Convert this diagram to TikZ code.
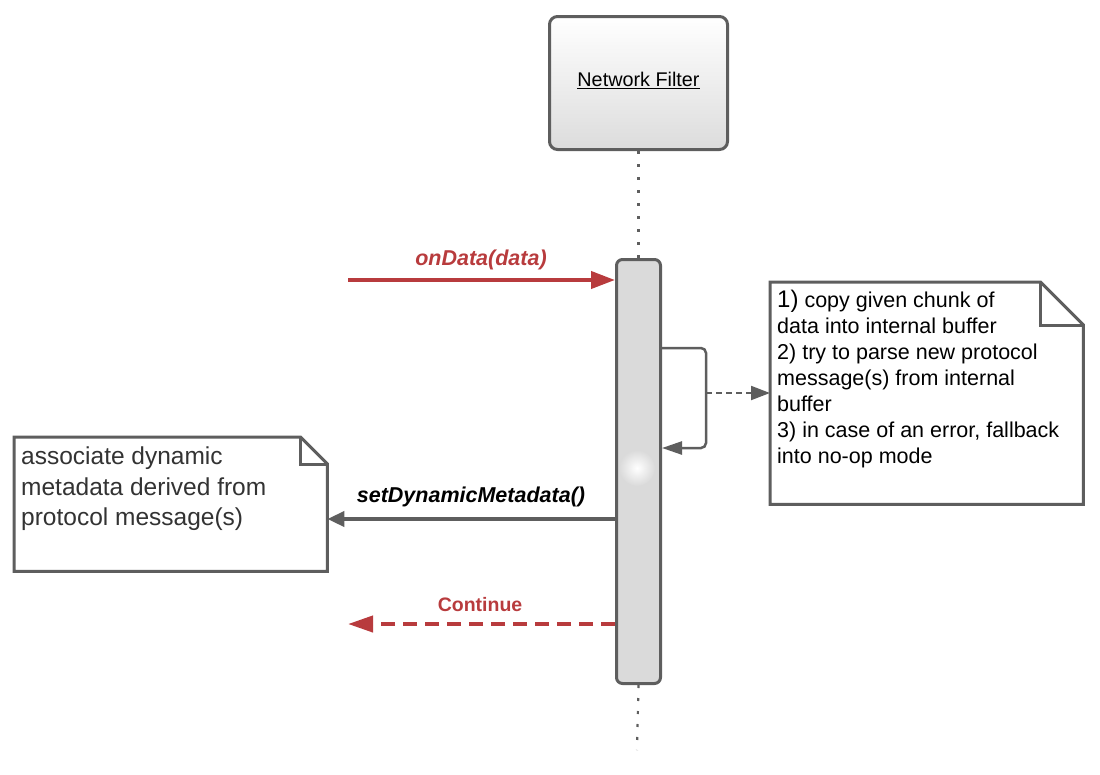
\documentclass[tikz,border=0pt]{standalone}
\usepackage{fontspec}
\setmainfont{Liberation Sans}
\usetikzlibrary{arrows.meta,calc}
\definecolor{lred}{HTML}{B83B3D}
\definecolor{lgray}{HTML}{5E5E5E}
\definecolor{actfill}{HTML}{DADADA}
\definecolor{hdrbot}{HTML}{DCDCDC}
\definecolor{notetxt}{HTML}{333333}
\begin{document}
\begin{tikzpicture}[x=1pt,y=-1pt,
  header/.style={draw=lgray, line width=3pt, rounded corners=8pt, top color=white, bottom color=hdrbot,
    minimum width=178pt, minimum height=133pt, inner sep=0pt, anchor=north west,
    font=\fontsize{19.8}{23}\selectfont},
  activation/.style={draw=lgray, line width=3pt, rounded corners=6pt, fill=actfill,
    minimum width=44pt, minimum height=424pt, inner sep=0pt, anchor=north west},
  lifeline/.style={lgray, line width=2.2pt, dash pattern=on 3pt off 10pt},
  notebox/.style={minimum width=#1, inner sep=0pt, anchor=north west},
  noteline/.style={draw=lgray, line width=3pt, fill=white, line join=miter},
  notetext/.style={inner sep=0pt, anchor=north west, align=left},
  redarrow/.style={lred, line width=4pt, -{Triangle[length=24pt,width=17pt]}},
  reddash/.style={lred, line width=4pt, dash pattern=on 14pt off 8pt, -{Triangle[length=25pt,width=16pt]}},
  grayarrow/.style={lgray, line width=4pt, -{Triangle[length=17pt,width=15pt]}},
  selfcall/.style={lgray, line width=2.5pt, rounded corners=5pt, -{Triangle[length=20pt,width=13pt]}},
  graydash/.style={lgray, line width=2pt, dash pattern=on 6pt off 4pt, -{Triangle[length=19pt,width=14pt]}},
  msglabel/.style={inner sep=0pt, font=\bfseries\itshape\fontsize{21.5}{24}\selectfont}
]
\useasboundingbox (0,0) rectangle (1100,774);

% lifeline header
\node[header] (nf) at (548,15) {\raisebox{8pt}{\underline{Network Filter}}};

% activation bar
\node[activation] (act) at (615,258) {};
\shade[inner color=white, outer color=actfill] (637,468) circle (18);
\coordinate (lifeend) at (637,750);
\draw[lifeline] (nf.south) -- (act.north);
\draw[lifeline] (act.south) -- (lifeend);

% right note
\node[notebox=313pt, minimum height=222pt] (rnote) at (770,282) {};
\draw[noteline] (rnote.north west) -- ($(rnote.north east)+(-43,0)$) -- ($(rnote.north east)+(0,43)$)
  -- (rnote.south east) -- (rnote.south west) -- cycle;
\draw[noteline, fill=none] ($(rnote.north east)+(-43,0)$) -- ++(0,43) -- ++(43,0);
\node[notetext, font=\fontsize{21.5}{26}\selectfont] (rtext) at ($(rnote.north west)+(7,8)$)
  {{\fontsize{24}{26}\selectfont 1)} copy given chunk of\\
   data into internal buffer\\
   2) try to parse new protocol\\
   message(s) from internal\\
   buffer\\
   3) in case of an error, fallback\\
   into no-op mode};

% left note
\node[notebox=313pt, minimum height=134pt] (lnote) at (14,437) {};
\draw[noteline] (lnote.north west) -- ($(lnote.north east)+(-27,0)$) -- ($(lnote.north east)+(0,27)$)
  -- (lnote.south east) -- (lnote.south west) -- cycle;
\draw[noteline, fill=none] ($(lnote.north east)+(-27,0)$) -- ++(0,27) -- ++(27,0);
\node[notetext, text=notetxt, font=\fontsize{24.5}{30.5}\selectfont] (ltext) at ($(lnote.north west)+(7,10)$)
  {associate dynamic\\
   metadata derived from\\
   protocol message(s)};

% onData message
\coordinate (odsrc) at (348,280);
\draw[redarrow] (odsrc) -- (odsrc -| act.west);
\node[msglabel, text=lred] (odlbl) at (481,260) {onData(data)};

% self call
\coordinate (loopA) at (706,348);
\coordinate (loopB) at (706,448);
\coordinate (loopM) at (706,393);
\draw[selfcall] (loopA -| act.east) -- (loopA) -- (loopB) -- (loopB -| act.east);
\draw[graydash] (loopM) -- (loopM -| rnote.west);

% setDynamicMetadata
\coordinate (sdm) at (615,519);
\draw[grayarrow] (sdm -| act.west) -- (sdm -| lnote.east);
\node[msglabel, text=black] (sdmlbl) at (471,497) {setDynamicMetadata()};

% Continue
\coordinate (cont) at (348,624);
\draw[reddash] (cont -| act.west) -- (cont);
\node[inner sep=0pt, text=lred, font=\bfseries\fontsize{19.5}{22}\selectfont] (contlbl) at (480,605) {Continue};
\end{tikzpicture}
\end{document}
